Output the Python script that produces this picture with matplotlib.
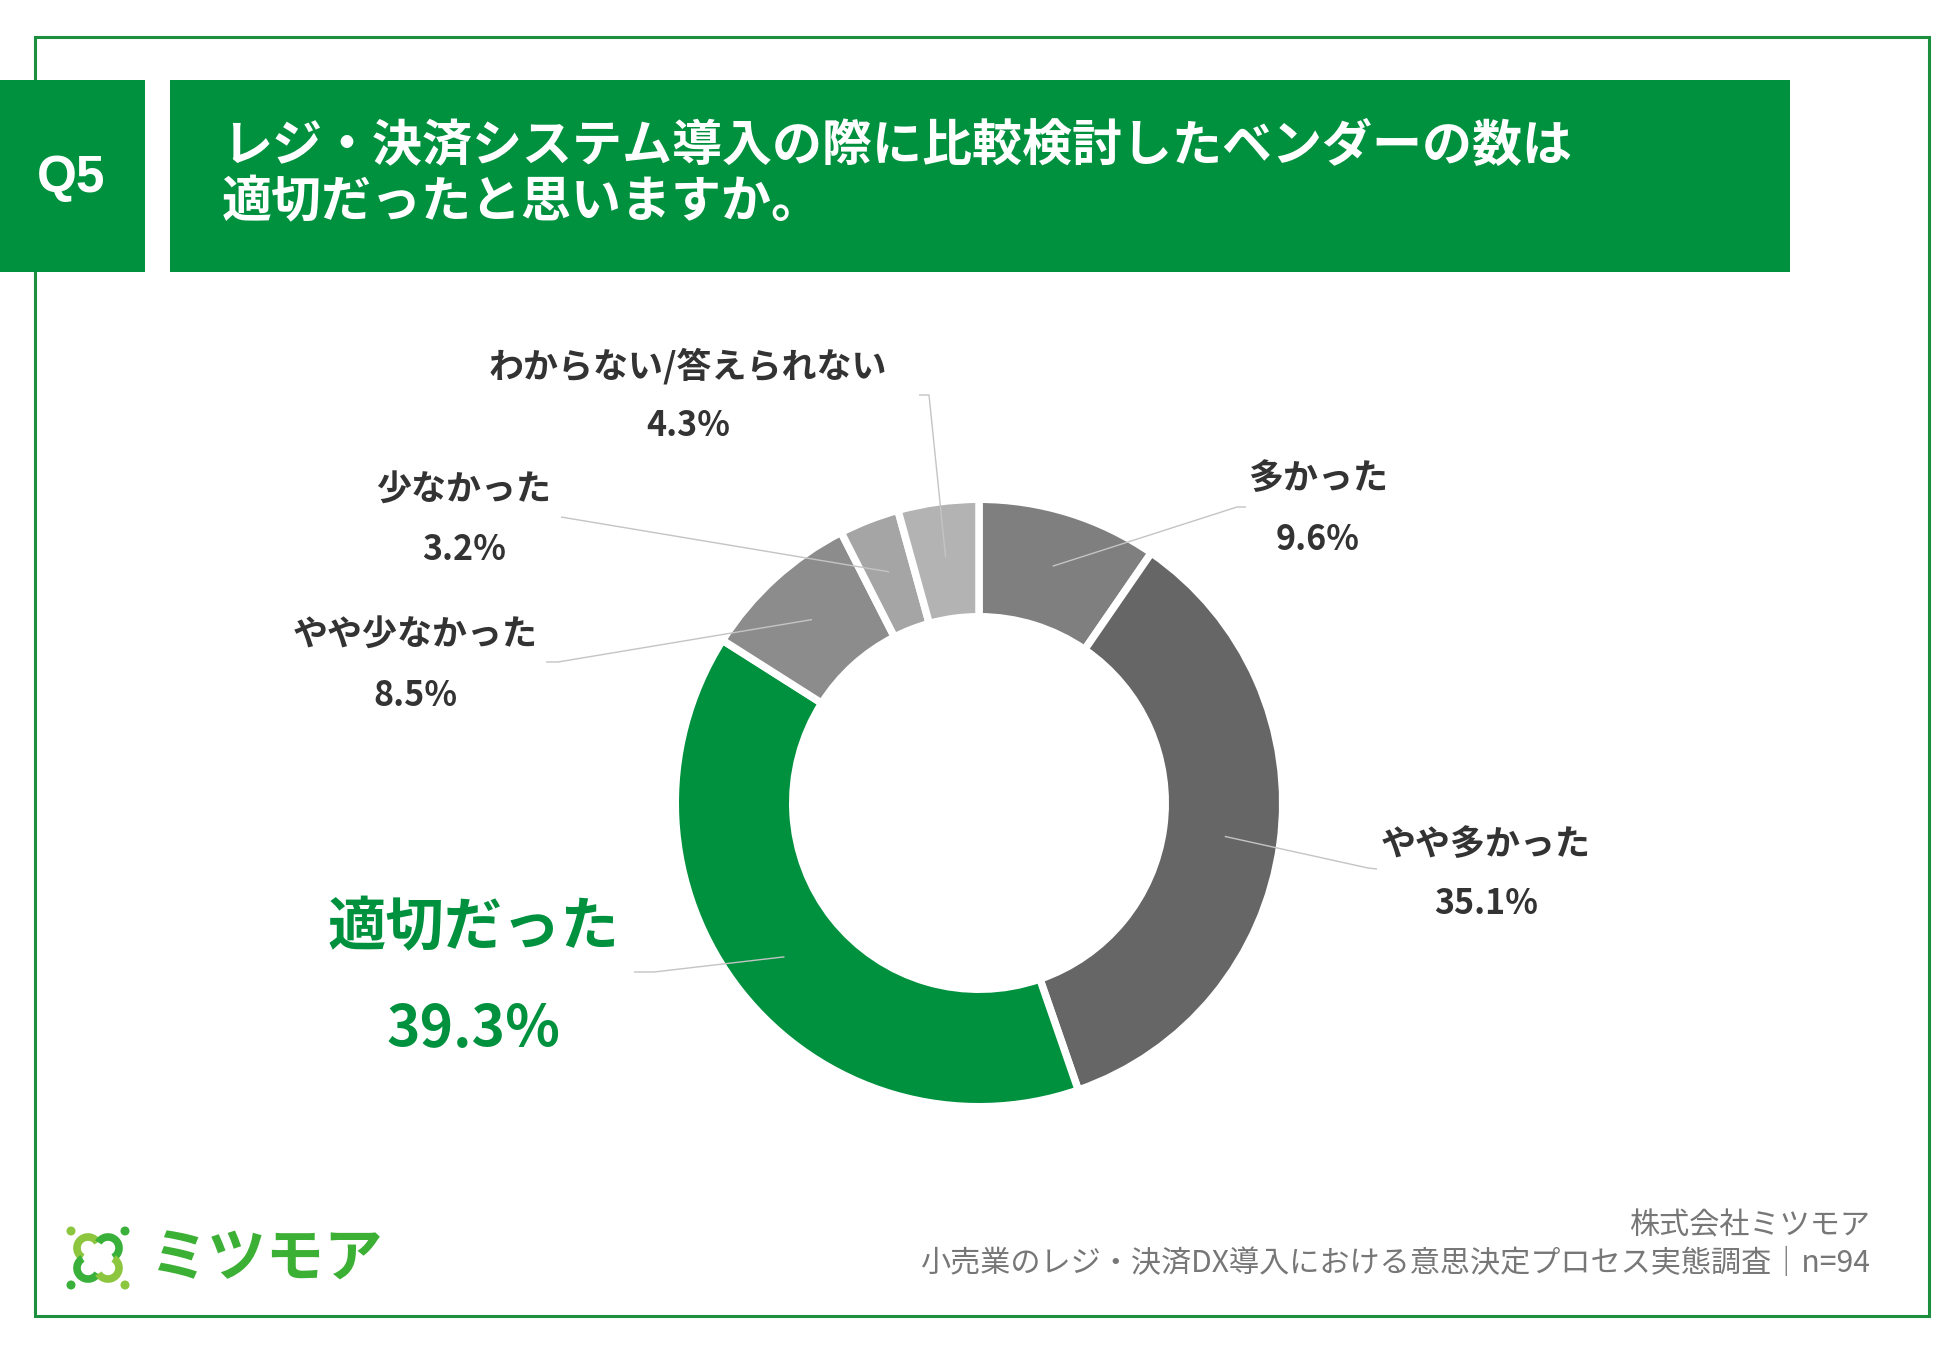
import matplotlib

matplotlib.use("Agg")

import matplotlib.pyplot as plt
import numpy as np
from matplotlib.patches import Arc, Circle, Rectangle

plt.rcParams["font.family"] = ["Noto Sans CJK JP", "DejaVu Sans"]

# data
categories = ["多かった", "やや多かった", "適切だった", "やや少なかった", "少なかった", "わからない/答えられない"]
shares = [9.6, 35.1, 39.3, 8.5, 3.2, 4.3]
colors = ["#7f7f7f", "#666666", "#00913f", "#8c8c8c", "#a5a5a5", "#b3b3b3"]

title_lines = ["レジ・決済システム導入の際に比較検討したベンダーの数は", "適切だったと思いますか。"]
question_no = "Q5"
source_lines = ["株式会社ミツモア", "小売業のレジ・決済DX導入における意思決定プロセス実態調査｜n=94"]
brand = "ミツモア"

W, H = 1950, 1350
GREEN = "#00913f"
TEXT = "#333333"
LIME = "#8cc63f"
LEAF = "#39b03a"

# layout in pixel units (x right, y down)
CX, CY = 979, 803          # donut centre
R_OUT, R_IN = 300, 190      # visible radii
GAP = 7.5                   # white gap between wedges, px
label_pos = [(1318, 479, 539), (1486, 844, 903), (473, 928, 1030),
             (415, 635, 695), (464, 490, 550), (688, 366, 426)]
leader_ends = [[(1237, 507), (1246, 507)], [(1368, 868), (1377, 869)],
               [(654, 972), (634, 972)], [(558, 662), (546, 662)],
               [(561, 517)], [(929, 395), (919, 395)]]

fig = plt.figure(figsize=(W / 100, H / 100), dpi=100)

bg = fig.add_axes([0, 0, 1, 1])
bg.set_xlim(0, W)
bg.set_ylim(H, 0)
bg.axis("off")

# outer frame and header boxes
bg.add_patch(Rectangle((35, 37), 1894, 1279, fill=False, edgecolor="#1b8f3e", linewidth=2.2))
bg.add_patch(Rectangle((0, 80), 145, 192, facecolor=GREEN, edgecolor="none"))
bg.add_patch(Rectangle((170, 80), 1620, 192, facecolor=GREEN, edgecolor="none"))
bg.text(71, 178, question_no, color="white", fontsize=37, fontweight="bold",
        family=["Liberation Sans", "DejaVu Sans"], ha="center", va="center")
for i, line in enumerate(title_lines):
    bg.text(222, 146 + i * 57, line, color="white", fontsize=36, fontweight="bold",
            ha="left", va="center")

# donut
pie_ax = fig.add_axes([(CX - 350) / W, (H - CY - 350) / H, 700 / W, 700 / H])
pie_ax.pie(
    shares,
    colors=colors,
    startangle=90,
    counterclock=False,
    radius=R_OUT + GAP / 2,
    wedgeprops=dict(width=R_OUT - R_IN + GAP, edgecolor="white", linewidth=GAP * 0.72),
)
pie_ax.set_xlim(-350, 350)
pie_ax.set_ylim(-350, 350)
pie_ax.set_aspect("equal")
pie_ax.axis("off")

# leader lines and labels on an overlay in pixel coordinates
top = fig.add_axes([0, 0, 1, 1])
top.set_xlim(0, W)
top.set_ylim(H, 0)
top.axis("off")
top.patch.set_alpha(0)

cum = np.cumsum([0] + shares[:-1])
r_mid = (R_OUT + R_IN) / 2 + 3
for cat, share, start, (lx, ly, py), ends in zip(categories, shares, cum, label_pos, leader_ends):
    ang = np.deg2rad(90 - (start + share / 2) / 100 * 360)
    x0, y0 = CX + r_mid * np.cos(ang), CY - r_mid * np.sin(ang)
    xs = [x0] + [p[0] for p in ends]
    ys = [y0] + [p[1] for p in ends]
    top.plot(xs, ys, color="#c4c4c4", linewidth=1.0, solid_capstyle="butt")
    if cat == "適切だった":
        top.text(lx, ly, cat, color=GREEN, fontsize=42, fontweight="bold", ha="center", va="center")
        top.text(lx, py, f"{share:.1f}%", color=GREEN, fontsize=41, fontweight="bold",
                 ha="center", va="center")
    else:
        top.text(lx, ly, cat, color=TEXT, fontsize=25.2, fontweight="bold", ha="center", va="center")
        top.text(lx, py, f"{share:.1f}%", color=TEXT, fontsize=24.5, fontweight="bold",
                 ha="center", va="center")

# source text
bg.text(1870, 1226, source_lines[0], color="#777777", fontsize=21.7, ha="right", va="center")
bg.text(1870, 1264, source_lines[1], color="#777777", fontsize=21.7, ha="right", va="center")

# brand logo: four-leaf mark with corner dots, then the name
icx, icy = 98, 1258
for (dx, dy), col in zip([(-27, -27), (27, -27), (-27, 27), (27, 27)], [LIME, LEAF, LEAF, LIME]):
    bg.add_patch(Circle((icx + dx, icy + dy), 4.5, facecolor=col, edgecolor="none"))
# visual angles (clockwise on screen because the y axis is inverted)
leaves = [((-10, -10), (30, 240), LIME), ((10, -10), (-60, 150), LEAF),
          ((-10, 10), (120, 330), LEAF), ((10, 10), (-150, 60), LIME)]
for (dx, dy), (v1, v2), col in leaves:
    bg.add_patch(Arc((icx + dx, icy + dy), 22, 22, theta1=-v2, theta2=-v1,
                     color=col, linewidth=5.5))
bg.text(150, 1260, brand, color="#3cb034", fontsize=42, fontweight="bold",
        ha="left", va="center")

fig.savefig("out.png", dpi=100)
